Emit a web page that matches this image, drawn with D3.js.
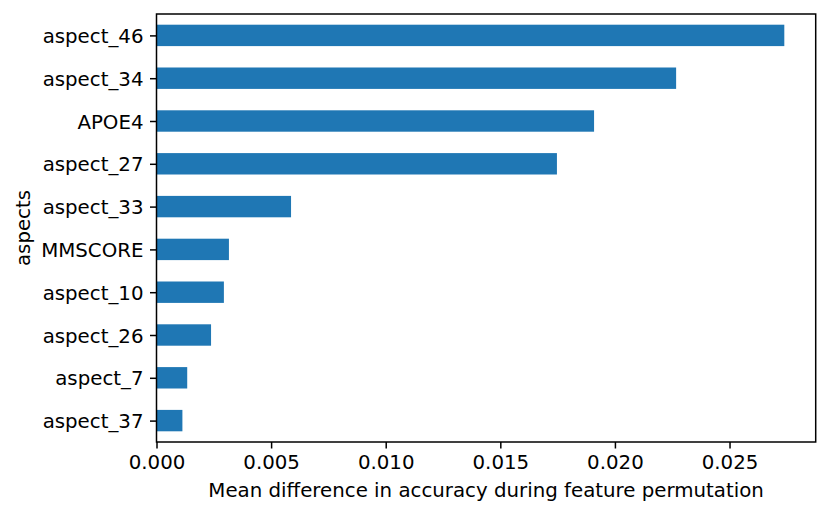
<!DOCTYPE html>
<html>
<head>
<meta charset="utf-8">
<script src="https://cdn.jsdelivr.net/npm/d3@7"></script>
<style>
  body { margin: 0; background: #fff; }
  svg text { font-family: "DejaVu Sans", sans-serif; fill: #000; }
</style>
</head>
<body>
<div id="chart"></div>
<script>
// categories listed bottom to top, as pandas barh draws them
var aspects = ["aspect_37", "aspect_7", "aspect_26", "aspect_10", "MMSCORE",
               "aspect_33", "aspect_27", "APOE4", "aspect_34", "aspect_46"];
var meanDiff = [0.00113, 0.00134, 0.00238, 0.00294, 0.00316,
                0.00587, 0.01747, 0.01909, 0.02267, 0.02739];
var xTicks = [0.000, 0.005, 0.010, 0.015, 0.020, 0.025];

var W = 830, H = 516;
var margin = {top: 14, right: 14.3, bottom: 74, left: 156.5},
    width = W - margin.left - margin.right,
    height = H - margin.top - margin.bottom;
var fs = 19.8;

var svg = d3.select("#chart").append("svg")
    .attr("width", W)
    .attr("height", H);

var g = svg.append("g")
    .attr("transform", "translate(" + margin.left + "," + margin.top + ")");

var x = d3.scaleLinear()
    .domain([0, d3.max(meanDiff) * 1.05])
    .range([0, width]);

// numeric band: category i centred at i, limits -0.5 .. n-0.5
var y = d3.scaleLinear()
    .domain([-0.5, aspects.length - 0.5])
    .range([height, 0]);
var barH = (y(0) - y(0.5));

g.selectAll(".bar")
    .data(meanDiff)
    .enter().append("rect")
    .attr("class", "bar")
    .attr("x", x(0))
    .attr("y", function(d, i) { return y(i + 0.25); })
    .attr("width", function(d) { return x(d) - x(0); })
    .attr("height", barH)
    .attr("fill", "#1f77b4");

// x axis
var xAxis = d3.axisBottom(x)
    .tickValues(xTicks)
    .tickFormat(d3.format(".3f"))
    .tickSize(6.5)
    .tickPadding(6);

var gx = g.append("g")
    .attr("transform", "translate(0," + height + ")")
    .call(xAxis);
gx.select(".domain").remove();
gx.selectAll("line").attr("stroke", "#000").attr("stroke-width", 1.5);
gx.selectAll("text").style("font-size", fs + "px").attr("dy", "0.72em");

// y axis
var yAxis = d3.axisLeft(y)
    .tickValues(d3.range(aspects.length))
    .tickFormat(function(i) { return aspects[i]; })
    .tickSize(6.5)
    .tickPadding(6.5);

var gy = g.append("g").call(yAxis);
gy.select(".domain").remove();
gy.selectAll("line").attr("stroke", "#000").attr("stroke-width", 1.5);
gy.selectAll("text").style("font-size", fs + "px").attr("dy", "0.36em");

// frame
g.append("rect")
    .attr("width", width)
    .attr("height", height)
    .attr("fill", "none")
    .attr("stroke", "#000")
    .attr("stroke-width", 1.5);

// axis titles
svg.append("text")
    .attr("x", margin.left + width / 2)
    .attr("y", 497.3)
    .attr("text-anchor", "middle")
    .style("font-size", fs + "px")
    .text("Mean difference in accuracy during feature permutation");

svg.append("text")
    .attr("transform", "translate(29.5," + (margin.top + height / 2) + ") rotate(-90)")
    .attr("text-anchor", "middle")
    .style("font-size", fs + "px")
    .text("aspects");
</script>
</body>
</html>
